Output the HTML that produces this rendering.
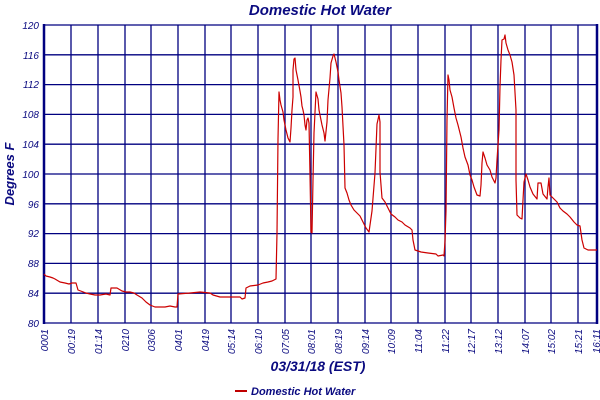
<!DOCTYPE html>
<html><head><meta charset="utf-8"><style>
html,body{margin:0;padding:0;background:#fff;width:600px;height:400px;overflow:hidden}
text{font-family:"Liberation Sans",sans-serif;font-style:italic;fill:#0a0a80}
</style></head><body>
<svg width="600" height="400" viewBox="0 0 600 400" xmlns="http://www.w3.org/2000/svg">
<text x="320" y="15" font-size="15" font-weight="bold" text-anchor="middle">Domestic Hot Water</text>
<g stroke="#000080" stroke-width="1.3" fill="none">
<path d="M44 25H597M44 54.8H597M44 84.6H597M44 114.4H597M44 144.2H597M44 174H597M44 203.8H597M44 233.6H597M44 263.4H597M44 293.2H597M44 323H597"/>
<path d="M71 25V323M98 25V323M125 25V323M151 25V323M178 25V323M205 25V323M231 25V323M258 25V323M285 25V323M311 25V323M338 25V323M365 25V323M391 25V323M418 25V323M445 25V323M471 25V323M498 25V323M525 25V323M551 25V323M578 25V323"/>
</g>
<path d="M44 24V324M597 24V324" stroke="#000080" stroke-width="2.5"/>
<g font-size="10" text-anchor="end">
<text x="39" y="29">120</text><text x="39" y="59">116</text><text x="39" y="88">112</text><text x="39" y="118">108</text><text x="39" y="148">104</text><text x="39" y="178">100</text><text x="39" y="208">96</text><text x="39" y="237">92</text><text x="39" y="267">88</text><text x="39" y="297">84</text><text x="39" y="327">80</text>
</g>
<text transform="translate(14 174) rotate(-90)" font-size="13" font-weight="bold" text-anchor="middle">Degrees F</text>
<g font-size="10" text-anchor="end">
<text transform="translate(48 329) rotate(-90)">0001</text>
<text transform="translate(75 329) rotate(-90)">00:19</text>
<text transform="translate(102 329) rotate(-90)">01:14</text>
<text transform="translate(129 329) rotate(-90)">0210</text>
<text transform="translate(155 329) rotate(-90)">0306</text>
<text transform="translate(182 329) rotate(-90)">0401</text>
<text transform="translate(209 329) rotate(-90)">0419</text>
<text transform="translate(235 329) rotate(-90)">05:14</text>
<text transform="translate(262 329) rotate(-90)">06:10</text>
<text transform="translate(289 329) rotate(-90)">07:05</text>
<text transform="translate(315 329) rotate(-90)">08:01</text>
<text transform="translate(342 329) rotate(-90)">08:19</text>
<text transform="translate(369 329) rotate(-90)">09:14</text>
<text transform="translate(395 329) rotate(-90)">10:09</text>
<text transform="translate(422 329) rotate(-90)">11:04</text>
<text transform="translate(449 329) rotate(-90)">11:22</text>
<text transform="translate(475 329) rotate(-90)">12:17</text>
<text transform="translate(502 329) rotate(-90)">13:12</text>
<text transform="translate(529 329) rotate(-90)">14:07</text>
<text transform="translate(555 329) rotate(-90)">15:02</text>
<text transform="translate(582 329) rotate(-90)">15:21</text>
<text transform="translate(600 329) rotate(-90)">16:11</text>
</g>
<text x="318" y="371" font-size="14" font-weight="bold" text-anchor="middle">03/31/18 (EST)</text>
<path d="M235 391H247" stroke="#c00000" stroke-width="2"/>
<text x="251" y="395" font-size="11" font-weight="bold">Domestic Hot Water</text>
<polyline fill="none" stroke="#cc0000" stroke-width="1.2" stroke-linejoin="round" points="44,274 46,276 50,277 53,278 55,279 60,282 65,283 69,284 72,283 76,283 78,290 86,293 90,294 95,295 100,295 106,294 110,295 111,288 117,288 122,291 126,292 130,292 134,293 137,295 142,298 146,302 150,305 155,307 165,307 170,306 175,307 177,307 178,294 190,293 200,292 210,293 213,295 220,297 230,297 240,297 242,299 245,298 246,288 250,286 258,285 263,283 268,282 272,281 276,279 277,233 278,139 279,92 280,100 281,105 283,112 284,120 286,130 288,138 290,142 291,128 292,110 293,97 293,70 294,59 295,58 296,70 298,80 300,91 301,97 302,106 303,110 304,115 305,125 306,130 307,120 308,118 309,123 310,175 311,232 312,233 313,180 314,133 316,92 318,99 319,110 320,115 322,125 324,133 325,141 327,122 328,100 330,78 331,63 333,56 334,54 336,62 338,72 339,80 341,93 342,107 344,145 345,188 347,193 349,200 351,205 354,210 357,213 360,216 363,222 366,228 369,232 370,225 372,211 375,173 377,124 379,115 380,122 380,172 382,198 385,202 387,206 391,214 395,217 398,220 402,222 405,225 410,228 412,230 413,240 415,250 421,252 428,253 436,254 438,256 443,255 444,256 445,241 446,211 447,120 448,75 449,80 450,90 452,97 454,108 456,118 458,125 461,137 463,148 465,157 468,165 470,175 472,180 474,187 477,195 480,196 481,185 482,163 483,152 485,158 487,165 490,170 492,177 495,183 496,178 497,160 499,130 500,87 501,60 502,40 504,39 505,35 506,43 508,50 510,55 512,62 514,75 516,110 516,180 517,215 520,218 522,219 523,200 524,182 526,174 528,180 530,187 533,194 537,199 538,183 541,183 543,194 547,199 548,187 549,178 550,195 553,198 557,202 560,208 563,211 567,214 570,217 574,222 577,225 580,226 582,240 584,248 588,250 597,250"/>
</svg>
</body></html>
